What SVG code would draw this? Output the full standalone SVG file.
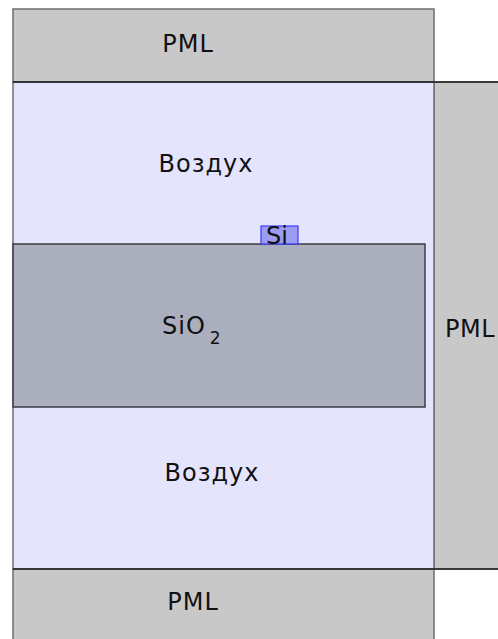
<svg xmlns="http://www.w3.org/2000/svg" width="498" height="639" viewBox="0 0 498 639">
<style>
.pml{fill:#c8c8c8;stroke:#6e6e6e;stroke-width:1.5}
.air{fill:#e4e4fc;stroke:#6e6e6e;stroke-width:1.5}
.sio2{fill:#abaebc;stroke:#3c3c44;stroke-width:1.5}
.si{fill:#9c9cf0;stroke:#3a3aff;stroke-width:1.2}
.sep{stroke:#1e1e1e;stroke-width:1.5}
text{font-family:"DejaVu Sans",sans-serif;font-size:24px;fill:#111;text-anchor:middle;letter-spacing:1px}
text.start{text-anchor:start}
</style>
<rect width="498" height="639" fill="#ffffff"/>
<g id="pml-top"><rect class="pml" x="13" y="9" width="421" height="73"/><text x="188" y="52">PML</text></g>
<g id="pml-right"><rect class="pml" x="434" y="82" width="70" height="487"/><text class="start" x="445" y="337" style="letter-spacing:0.5px">PML</text></g>
<g id="air"><rect class="air" x="13" y="82" width="421" height="487"/>
<text x="206" y="172">Воздух</text><text x="212" y="481">Воздух</text></g>
<g id="pml-bottom"><rect class="pml" x="13" y="569" width="421" height="80"/><text x="193" y="610">PML</text></g>
<g id="sio2"><rect class="sio2" x="13" y="244" width="412" height="163"/><text class="start" x="162" y="334">SiO<tspan font-size="17" dx="4" dy="10">2</tspan></text></g>
<g id="si"><rect class="si" x="261" y="226" width="37" height="18"/><text x="277" y="244" font-size="22" style="letter-spacing:0">Si</text></g>
<g id="lines"><line class="sep" x1="13" y1="82" x2="498" y2="82"/><line class="sep" x1="13" y1="569" x2="498" y2="569"/></g>
</svg>
